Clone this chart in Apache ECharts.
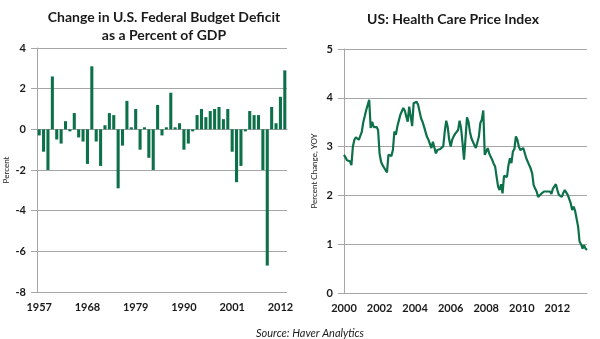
<!DOCTYPE html>
<html><head><meta charset="utf-8">
<script src="https://cdn.jsdelivr.net/npm/echarts@6/dist/echarts.min.js"></script>
<style>html,body{margin:0;padding:0;background:#fff}#c{width:600px;height:339px}</style>
</head><body><div id="c"></div>
<script>
// Left chart: change in U.S. federal budget deficit, % of GDP
const deficitYears = [];
for (let y = 1957; y <= 2013; y++) deficitYears.push(String(y));
const deficitChange = [
  -0.3, -1.1, -2.0, 2.6, -0.5, -0.7, 0.4, -0.1, 0.8, -0.4,
  -0.6, -1.7, 3.1, -0.6, -1.8, 0.2, 0.8, 0.7, -2.9, -0.8,
  1.4, 0.1, 1.0, -1.0, 0.1, -1.4, -2.0, 1.2, -0.3, 0.1,
  1.8, 0.1, 0.3, -1.0, -0.7, -0.1, 0.7, 1.0, 0.6, 0.9,
  1.0, 1.1, 0.5, 1.0, -1.1, -2.6, -1.8, -0.1, 0.9, 0.7,
  0.7, -2.0, -6.7, 1.1, 0.3, 1.6, 2.9
];
const leftYTicks = { min: -8, max: 4, interval: 2 };

// Right chart: US health care price index, % change YoY (monthly from Jan 2000)
const hcMonths = [];
for (let y = 2000; y <= 2013; y++) for (let m = 1; m <= 12; m++) hcMonths.push(y + '-' + String(m).padStart(2, '0'));
const hcValues = [
  2.83, 2.78, 2.72, 2.72, 2.70, 2.62, 3.00, 3.14, 3.19, 3.20, 3.14, 3.18,
  3.30, 3.50, 3.62, 3.75, 3.72, 3.96, 3.38, 3.51, 3.40, 3.42, 3.40, 3.34,
  2.86, 2.69, 2.62, 2.66, 2.52, 2.47, 2.83, 2.79, 2.81, 2.93, 3.31, 3.24,
  3.41, 3.45, 3.65, 3.72, 3.79, 3.74, 3.62, 3.51, 3.82, 3.62, 3.42, 3.89,
  3.92, 3.92, 3.86, 3.88, 3.58, 3.51, 3.41, 3.38, 3.20, 3.14, 3.15, 2.97,
  3.10, 3.07, 2.86, 2.93, 2.97, 2.95, 2.97, 3.01, 3.31, 3.53, 3.40, 3.14,
  3.00, 3.14, 3.21, 3.26, 3.30, 3.34, 3.53, 3.38, 3.07, 2.73, 2.76, 3.60,
  3.51, 3.30, 3.17, 3.10, 3.03, 2.97, 2.97, 3.20, 3.48, 3.55, 3.74, 2.83,
  2.83, 2.97, 2.86, 2.79, 2.73, 2.65, 2.59, 2.38, 2.18, 2.11, 2.23, 2.04,
  2.40, 2.40, 2.38, 2.62, 2.76, 2.66, 2.90, 2.95, 3.21, 3.14, 3.00, 2.93,
  2.97, 2.97, 2.97, 2.76, 2.73, 2.62, 2.55, 2.45, 2.21, 2.14, 2.08, 1.97,
  2.01, 2.03, 2.04, 2.08, 2.12, 2.08, 2.11, 2.08, 2.03, 2.14, 2.18, 2.23,
  2.11, 2.01, 1.97, 1.97, 2.05, 2.11, 2.14, 2.01, 1.97, 1.84, 1.70, 1.77,
  1.68, 1.66, 1.36, 1.05, 1.00, 0.91, 0.98, 0.91, 0.88
];
const hcMonthsUsed = hcMonths.slice(0, hcValues.length);
const rightYTicks = { min: 0, max: 5, interval: 1 };

const GREEN = '#0c7049';
const FONT = 'Lato, "Open Sans", sans-serif';
const axisLabelStyle = { fontFamily: FONT, fontWeight: 'bold', fontSize: 11, color: '#1a1a1a' };

const chart = echarts.init(document.getElementById('c'), null, { renderer: 'canvas' });
chart.setOption({
  animation: false,
  backgroundColor: '#fff',
  title: [
    { text: 'Change in U.S. Federal Budget Deficit\nas a Percent of GDP', left: 159, textAlign: 'center', top: 3,
      textStyle: { fontFamily: FONT, fontWeight: 'bold', fontSize: 14, lineHeight: 18, color: '#1a1a1a' } },
    { text: 'US: Health Care Price Index', left: 448, textAlign: 'center', top: 7,
      textStyle: { fontFamily: FONT, fontWeight: 'bold', fontSize: 14, color: '#1a1a1a' } },
    { text: 'Source: Haver Analytics', left: 305, textAlign: 'center', top: 323,
      textStyle: { fontFamily: FONT, fontStyle: 'italic', fontWeight: 'normal', fontSize: 11, color: '#1a1a1a' } }
  ],
  grid: [
    { left: 37, right: 313, top: 48, bottom: 47, containLabel: false },
    { left: 344, right: 13, top: 49, bottom: 46, containLabel: false }
  ],
  xAxis: [
    { type: 'category', gridIndex: 0, data: deficitYears, boundaryGap: true,
      axisLine: { lineStyle: { color: '#a6a6a6' } }, axisTick: { show: false },
      axisLabel: Object.assign({ interval: 10, margin: 10 }, axisLabelStyle) },
    { type: 'category', gridIndex: 1, data: hcMonthsUsed, boundaryGap: false,
      axisLine: { lineStyle: { color: '#a6a6a6' } }, axisTick: { show: false },
      axisLabel: Object.assign({ interval: 23, margin: 10, formatter: v => v.slice(0, 4) }, axisLabelStyle) }
  ],
  yAxis: [
    { type: 'value', gridIndex: 0, min: leftYTicks.min, max: leftYTicks.max, interval: leftYTicks.interval,
      name: 'Percent', nameLocation: 'middle', nameGap: 27, nameRotate: 90,
      nameTextStyle: { fontFamily: FONT, fontSize: 8, color: '#1a1a1a' },
      axisLine: { show: true, lineStyle: { color: '#a6a6a6' } },
      axisTick: { show: true, length: 6, lineStyle: { color: '#a6a6a6' } },
      splitLine: { lineStyle: { color: '#a6a6a6' } },
      axisLabel: Object.assign({ margin: 11 }, axisLabelStyle) },
    { type: 'value', gridIndex: 1, min: rightYTicks.min, max: rightYTicks.max, interval: rightYTicks.interval,
      name: 'Percent Change, YOY', nameLocation: 'middle', nameGap: 26, nameRotate: 90,
      nameTextStyle: { fontFamily: FONT, fontSize: 8, color: '#1a1a1a' },
      axisLine: { show: true, lineStyle: { color: '#a6a6a6' } },
      axisTick: { show: true, length: 6, lineStyle: { color: '#a6a6a6' } },
      splitLine: { lineStyle: { color: '#a6a6a6' } },
      axisLabel: Object.assign({ margin: 11 }, axisLabelStyle) }
  ],
  series: [
    { type: 'bar', xAxisIndex: 0, yAxisIndex: 0, data: deficitChange, barCategoryGap: '30%',
      itemStyle: { color: GREEN } },
    { type: 'line', xAxisIndex: 1, yAxisIndex: 1, data: hcValues, showSymbol: false, symbol: 'none',
      lineStyle: { color: GREEN, width: 2.2 } }
  ]
});
</script></body></html>
